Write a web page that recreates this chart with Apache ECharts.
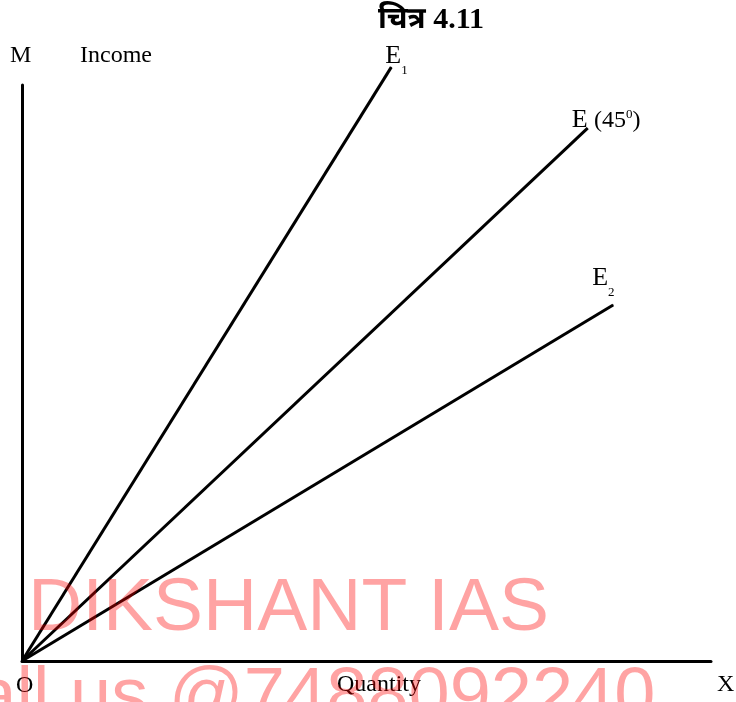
<!DOCTYPE html>
<html>
<head>
<meta charset="utf-8">
<script src="https://cdn.jsdelivr.net/npm/echarts@6/dist/echarts.min.js"></script>
<style>
html, body { margin: 0; padding: 0; background: #fff; }
#main { width: 736px; height: 702px; }
</style>
</head>
<body>
<div id="main"></div>
<script>
// rays drawn from origin O, end points (axis units 0-100)
var rayNames = ['E1', 'E', 'E2'];
var rayEndX = [53.6, 82.1, 85.8];
var rayEndY = [103.1, 92.5, 61.8];
var rayLabels = ['{e|E}{s|1}', '{e|E }{t|(45}{sup|0}{t|)}', '{e|E}{s|2}'];
var labelOffsets = [[-6, -3], [-16, 0], [-21, -19]];

var serif = '"Liberation Serif", "Times New Roman", serif';

var myChart = echarts.init(document.getElementById('main'));

var series = [];
for (var i = 0; i < rayNames.length; i++) {
  series.push({
    name: rayNames[i],
    type: 'line',
    clip: false,
    symbol: 'circle',
    symbolSize: 1,
    silent: true,
    itemStyle: { color: '#000' },
    lineStyle: { color: '#000', width: 3 },
    data: [
      [0, 0],
      {
        value: [rayEndX[i], rayEndY[i]],
        label: {
          show: true,
          position: 'inside',
          align: 'left',
          verticalAlign: 'middle',
          offset: labelOffsets[i],
          formatter: rayLabels[i],
          rich: {
            e: { fontFamily: serif, fontSize: 26, lineHeight: 26, color: '#000', padding: [0, 0, 8, 0], verticalAlign: 'bottom' },
            s: { fontFamily: serif, fontSize: 13, lineHeight: 13, color: '#000', verticalAlign: 'bottom' },
            t: { fontFamily: serif, fontSize: 24, lineHeight: 26, color: '#000', padding: [0, 0, 8, 0], verticalAlign: 'bottom' },
            sup: { fontFamily: serif, fontSize: 13, lineHeight: 13, color: '#000', verticalAlign: 'bottom', padding: [0, 0, 20, 0] }
          }
        }
      }
    ]
  });
}

var option = {
  backgroundColor: '#fff',
  animation: false,
  title: {
    text: 'चित्र 4.11',
    left: 373,
    top: 0,
    textStyle: {
      fontFamily: '"Liberation Serif", "Noto Sans Devanagari", "Noto Sans", serif',
      fontSize: 30,
      fontWeight: 'bold',
      color: '#000'
    }
  },
  grid: { left: 22, right: 25, top: 85, bottom: 41 },
  xAxis: {
    type: 'value',
    min: 0,
    max: 100,
    name: 'Quantity',
    nameLocation: 'middle',
    nameGap: 12,
    nameTextStyle: { fontFamily: serif, fontSize: 24, color: '#000', padding: [0, 0, 0, 25] },
    axisLine: { show: true, lineStyle: { color: '#000', width: 3 } },
    axisTick: { show: false },
    axisLabel: { show: false },
    splitLine: { show: false }
  },
  yAxis: {
    type: 'value',
    min: 0,
    max: 100,
    name: 'Income',
    nameLocation: 'end',
    nameGap: 29,
    nameTextStyle: { fontFamily: serif, fontSize: 24, color: '#000', align: 'left', verticalAlign: 'middle', padding: [0, 0, 0, 58] },
    axisLine: { show: true, lineStyle: { color: '#000', width: 3 } },
    axisTick: { show: false },
    axisLabel: { show: false },
    splitLine: { show: false }
  },
  graphic: [
    { type: 'text', left: 10, top: 44, style: { text: 'M', font: '24px ' + serif, fill: '#000' } },
    { type: 'text', left: 16, top: 674, style: { text: 'O', font: '24px ' + serif, fill: '#000' } },
    { type: 'text', left: 717, top: 673, style: { text: 'X', font: '24px ' + serif, fill: '#000' } },
    // watermark
    { type: 'text', x: 28, y: 609, z: 100, silent: true,
      style: { text: 'DIKSHANT IAS', font: '75px "Liberation Sans", Arial, sans-serif', fill: 'rgba(255,0,0,0.36)', verticalAlign: 'middle' } },
    { type: 'text', x: -78, y: 699, z: 100, silent: true,
      style: { text: 'Call us @7488092240', font: '74px "Liberation Sans", Arial, sans-serif', fill: 'rgba(255,0,0,0.36)', verticalAlign: 'middle' } }
  ],
  series: series
};

myChart.setOption(option);
</script>
</body>
</html>
